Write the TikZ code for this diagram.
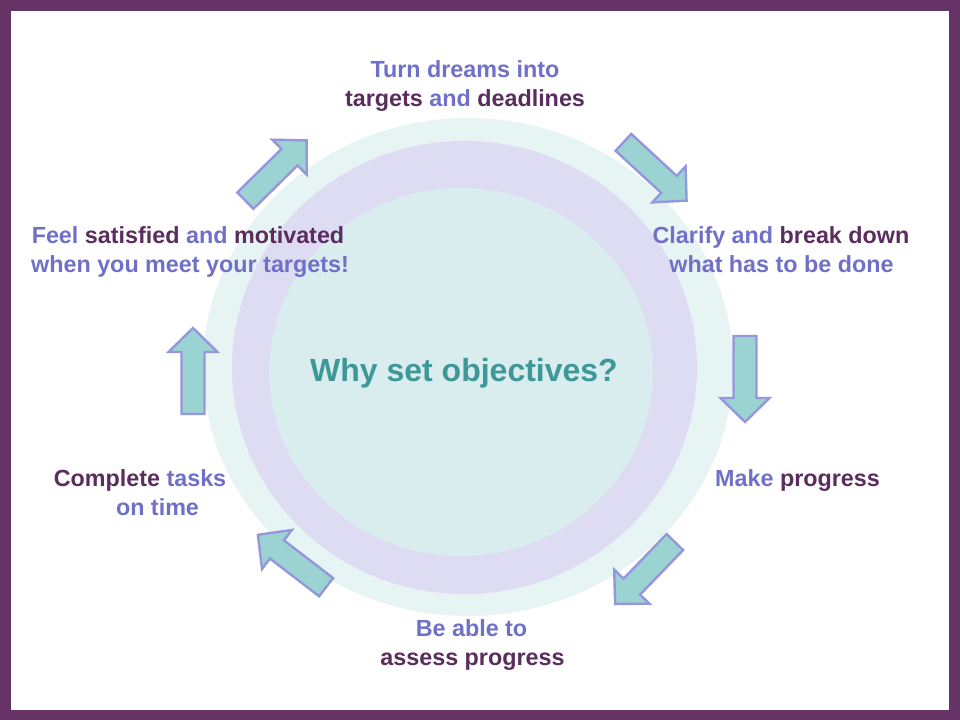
\documentclass[tikz,border=0pt]{standalone}
\usepackage{fontspec}
\setmainfont{Liberation Sans}
\definecolor{framec}{HTML}{663366}
\definecolor{outerc}{HTML}{E7F4F4}
\definecolor{midc}{HTML}{DDDCF2}
\definecolor{innerc}{HTML}{D9ECEE}
\definecolor{arrfill}{HTML}{9BD2D2}
\definecolor{arrline}{HTML}{9696DC}
\definecolor{litec}{HTML}{7070C8}
\definecolor{darkc}{HTML}{5A2D5E}
\definecolor{tealc}{HTML}{3E9898}
\newcommand{\darkw}[1]{\textcolor{darkc}{#1}}
\newcommand{\blockarr}[4]{%
  \draw[arrowbox, shift={(#2,#3)}, rotate=#4]
    (-43,-11.5) -- (19,-11.5) -- (19,-24.5) -- (43,0) -- (19,24.5) -- (19,11.5) -- (-43,11.5) -- cycle;
  \coordinate (#1) at (#2,#3);}
\begin{document}
\begin{tikzpicture}[x=0.75pt,y=-0.75pt,
  arrowbox/.style={fill=arrfill, draw=arrline, line width=1.8pt, line join=miter},
  txt/.style={font=\fontsize{17.5}{21}\selectfont\bfseries, anchor=base, inner sep=0pt, text=litec},
  title/.style={font=\fontsize{24}{29}\selectfont\bfseries, anchor=base, inner sep=0pt, text=tealc}]
\useasboundingbox (0,0) rectangle (960,720);
\fill[framec] (0,0) rectangle (960,720);
\fill[white] (11,11) rectangle (949,710);
% circles
\fill[outerc] (468,367) ellipse [x radius=198.75pt, y radius=186.75pt];
\fill[midc] (464.5,367.5) ellipse [x radius=174.4pt, y radius=169.9pt];
\fill[innerc] (461,372) ellipse [x radius=144pt, y radius=138pt];
% arrows
\blockarr{a1}{655}{171.5}{-42.7}
\blockarr{a2}{745}{379}{-90}
\blockarr{a3}{645}{573}{-134}
\blockarr{a4}{292}{561}{142.5}
\blockarr{a5}{193}{371}{90}
\blockarr{a6}{276}{170.5}{44.5}
% centre
\node[title] (why) at (464,381) {Why set objectives?};
% texts
\node[txt] (t1a) at (465,78) {Turn dreams into};
\node[txt] (t1b) at (465,107) {\darkw{targets} and \darkw{deadlines}};
\node[txt] (t2a) at (781,244) {Clarify and \darkw{break down}};
\node[txt] (t2b) at (781.5,273) {what has to be done};
\node[txt] (t3) at (797.5,486) {Make \darkw{progress}};
\node[txt] (t4a) at (471.5,636) {Be able to};
\node[txt] (t4b) at (472.5,665) {\darkw{assess progress}};
\node[txt] (t5a) at (140,486) {\darkw{Complete} tasks};
\node[txt] (t5b) at (157.5,515) {on time};
\node[txt] (t6a) at (188,244) {Feel \darkw{satisfied} and \darkw{motivated}};
\node[txt] (t6b) at (190,273) {when you meet your targets!};
\end{tikzpicture}
\end{document}
